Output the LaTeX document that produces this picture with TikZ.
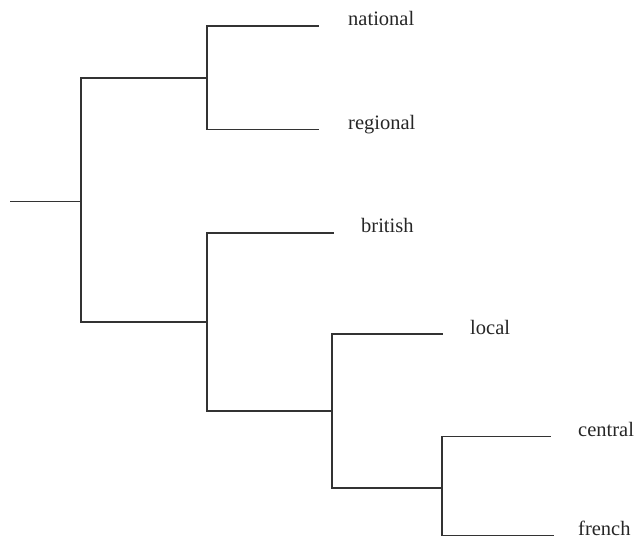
\documentclass[tikz,border=0pt]{standalone}
\usepackage{fontspec}
\setmainfont{Liberation Serif}
\begin{document}
\begin{tikzpicture}[x=1bp,y=-1bp,
  branch/.style={draw=black!80,line width=1.6bp,line cap=rect},
  leaflabel/.style={anchor=base west,inner sep=0pt,text=black!85,
    font=\fontsize{20.5bp}{24bp}\selectfont}]
\useasboundingbox (0,0) rectangle (639,537);
% internal joins of the tree
\coordinate (r0) at (11,201.5);
\coordinate (r)  at (81,201.5);
\coordinate (A)  at (207,78);
\coordinate (B)  at (207,322);
\coordinate (C)  at (332,411);
\coordinate (D)  at (442,488);
% ends of the leaf branches
\coordinate (natE) at (318,26);
\coordinate (regE) at (318,129.5);
\coordinate (briE) at (333,233);
\coordinate (locE) at (442,334);
\coordinate (cenE) at (550,436.5);
\coordinate (freE) at (553,535.5);
% leaf labels
\node[leaflabel] (national) at ([xshift=30bp]natE) {national};
\node[leaflabel] (regional) at ([xshift=30bp]regE) {regional};
\node[leaflabel] (british)  at ([xshift=28bp]briE) {british};
\node[leaflabel] (local)    at ([xshift=28bp]locE) {local};
\node[leaflabel] (central)  at ([xshift=28bp]cenE) {central};
\node[leaflabel] (french)   at ([xshift=25bp]freE) {french};
% branches
\draw[branch] (r0) -- (r);
\draw[branch] (r) |- (A);
\draw[branch] (r) |- (B);
\draw[branch] (A) |- (natE);
\draw[branch] (A) |- (regE);
\draw[branch] (B) |- (briE);
\draw[branch] (B) |- (C);
\draw[branch] (C) |- (locE);
\draw[branch] (C) |- (D);
\draw[branch] (D) |- (cenE);
\draw[branch] (D) |- (freE);
\end{tikzpicture}
\end{document}
